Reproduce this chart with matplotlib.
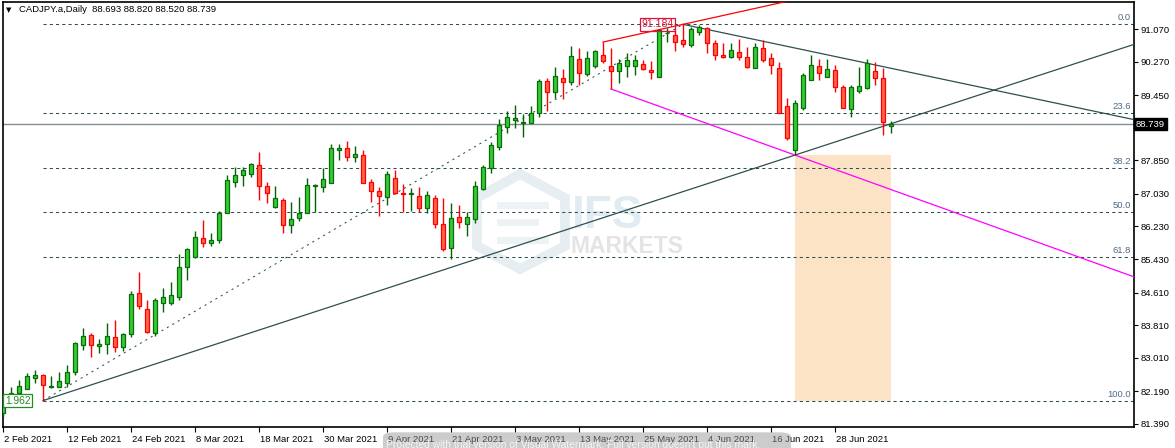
import matplotlib
matplotlib.use("Agg")
import numpy as np
import matplotlib.pyplot as plt
from matplotlib.patches import Rectangle, Polygon, FancyBboxPatch
from matplotlib.transforms import blended_transform_factory, ScaledTranslation

plt.rcParams['font.family'] = ['Liberation Sans', 'DejaVu Sans']

# --- Daily OHLC (bar index 0 = 2 Feb 2021)
opens = [81.67, 82.08, 82.16, 82.25, 82.52, 82.60, 82.30, 82.30, 82.40, 82.67,
         83.33, 83.58, 83.31, 83.36, 83.53, 83.28, 83.60, 84.60, 84.21, 83.62,
         84.36, 84.36, 84.51, 85.24, 85.49, 85.95, 85.83, 85.90, 86.56, 87.32,
         87.50, 87.52, 87.74, 87.22, 86.71, 86.88, 86.27, 86.44, 86.56, 87.22,
         87.20, 87.30, 88.11, 88.16, 87.93, 87.98, 87.32, 87.10, 86.96, 87.42,
         87.04, 87.02, 86.98, 86.69, 86.93, 86.30, 85.71, 86.47, 86.30, 86.42,
         87.15, 87.67, 88.18, 88.67, 88.85, 88.77, 88.77, 89.01, 89.80, 89.53,
         89.87, 89.77, 90.34, 89.97, 90.16, 90.43, 90.16, 90.04, 90.16, 90.16,
         90.21, 90.07, 89.89, 90.96, 90.92, 90.80, 90.68, 91.00, 91.09, 90.73,
         90.43, 90.38, 90.51, 90.38, 90.11, 90.60, 90.36, 90.11, 89.18, 88.11,
         89.14, 89.82, 90.16, 89.89, 90.07, 89.65, 89.11, 89.55, 89.62, 90.04,
         89.87, 88.693]
highs = [82.16, 82.30, 82.47, 82.65, 82.72, 82.62, 82.57, 82.67, 82.84, 83.40,
         83.75, 83.63, 83.48, 83.87, 83.94, 83.63, 84.65, 85.12, 84.43, 84.48,
         84.73, 84.87, 85.56, 85.71, 86.12, 86.39, 86.07, 86.61, 87.50, 87.69,
         87.69, 87.79, 88.06, 87.32, 87.22, 86.93, 86.83, 86.96, 87.42, 87.27,
         87.67, 88.25, 88.25, 88.33, 88.20, 88.11, 87.40, 87.20, 87.59, 87.62,
         87.27, 87.18, 87.20, 87.10, 87.00, 86.93, 86.81, 86.76, 86.59, 87.35,
         87.74, 88.30, 88.87, 89.06, 89.21, 88.99, 89.18, 89.85, 89.87, 90.14,
         90.09, 90.65, 90.60, 90.53, 90.56, 90.75, 90.60, 90.34, 90.48, 90.43,
         90.31, 90.29, 91.07, 91.09, 91.05, 91.184, 91.12, 91.17, 91.12, 90.80,
         90.73, 90.73, 90.82, 90.63, 90.73, 90.80, 90.48, 90.26, 89.38, 89.33,
         89.99, 90.43, 90.34, 90.34, 90.19, 89.70, 89.70, 90.14, 90.34, 90.26,
         90.11, 88.820]
lows = [81.57, 81.98, 82.11, 82.25, 82.40, 81.962, 82.28, 82.30, 82.30, 82.60,
        83.21, 83.04, 83.13, 83.11, 83.16, 83.18, 83.53, 84.21, 83.62, 83.55,
        84.13, 84.31, 84.43, 84.92, 85.46, 85.73, 85.76, 85.83, 86.56, 87.20,
        87.22, 87.45, 86.88, 86.81, 86.69, 86.07, 86.07, 86.37, 86.56, 86.59,
        87.08, 87.30, 87.86, 87.84, 87.81, 87.30, 86.83, 86.49, 86.76, 87.03,
        86.59, 86.61, 86.59, 86.56, 86.20, 85.63, 85.44, 86.20, 86.00, 86.32,
        87.13, 87.54, 88.11, 88.52, 88.65, 88.42, 88.77, 88.91, 89.06, 89.38,
        89.36, 89.70, 89.70, 89.92, 90.11, 90.24, 89.60, 89.75, 89.90, 89.94,
        90.07, 89.85, 89.89, 90.75, 90.53, 90.63, 90.63, 90.92, 90.48, 90.31,
        90.36, 90.36, 90.31, 90.11, 90.11, 90.26, 89.97, 89.01, 88.35, 87.98,
        89.09, 89.82, 89.82, 89.89, 89.53, 89.14, 88.91, 89.50, 89.60, 89.70,
        88.47, 88.520]
closes = [82.11, 82.16, 82.33, 82.57, 82.60, 82.35, 82.33, 82.45, 82.67, 83.38,
          83.55, 83.33, 83.36, 83.55, 83.28, 83.60, 84.58, 84.29, 83.65, 84.43,
          84.51, 84.56, 85.24, 85.68, 85.98, 85.83, 85.90, 86.56, 87.37, 87.50,
          87.62, 87.76, 87.22, 87.05, 86.93, 86.27, 86.42, 86.56, 87.25, 87.25,
          87.40, 88.16, 88.16, 87.93, 88.01, 87.30, 87.10, 86.98, 87.52, 87.05,
          87.02, 87.04, 86.69, 87.00, 86.30, 85.68, 86.44, 86.34, 86.47, 87.22,
          87.69, 88.23, 88.72, 88.91, 88.88, 88.78, 89.01, 89.80, 89.53, 89.92,
          89.77, 90.41, 89.99, 90.36, 90.53, 90.29, 90.04, 90.24, 90.31, 90.31,
          90.09, 90.02, 91.05, 90.97, 90.75, 90.70, 91.07, 91.12, 90.73, 90.43,
          90.38, 90.56, 90.38, 90.14, 90.63, 90.31, 90.19, 89.01, 88.40, 89.26,
          89.94, 90.19, 89.99, 90.09, 89.65, 89.14, 89.65, 89.67, 90.24, 89.87,
          88.79, 88.739]

date_labels = ['2 Feb 2021', '12 Feb 2021', '24 Feb 2021', '8 Mar 2021', '18 Mar 2021',
               '30 Mar 2021', '9 Apr 2021', '21 Apr 2021', '3 May 2021', '13 May 2021',
               '25 May 2021', '4 Jun 2021', '16 Jun 2021', '28 Jun 2021']
date_ticks = [0, 8, 16, 24, 32, 40, 48, 56, 64, 72, 80, 88, 96, 104]
price_ticks = [91.070, 90.270, 89.450, 88.650, 87.850, 87.030, 86.230,
               85.430, 84.610, 83.810, 83.010, 82.190, 81.390]

# --- Drawing objects
fib_start, fib_low = 5, 81.962
fib_end, fib_high = 85, 91.184
fib_levels = [0.0, 23.6, 38.2, 50.0, 61.8, 100.0]
support_pts = [(5, 81.962), (99, 87.98)]
resist_pts = [(85, 91.184), (109, 90.19)]
red_pts = [(75, 90.75), (85, 91.184)]
magenta_pts = [(76, 89.60), (99, 87.98)]
box_x = (99, 111)
box_y = (81.962, 87.98)
last_price = 88.739
header = "CADJPY.a,Daily  88.693 88.820 88.520 88.739"

W, H = 1175, 448
XMAX = 141.375
YMIN, YMAX = 81.315, 91.732
DARK = '#2F4F4F'

fig = plt.figure(figsize=(W / 100, H / 100), dpi=100)
ax = fig.add_axes([3 / W, 21 / H, 1131 / W, 425 / H])
ax.set_xlim(0, XMAX)
ax.set_ylim(YMIN, YMAX)

# --- Watermark logo (background)
def fpx(x, y):
    return (x / W, 1 - y / H)

hexa = [fpx(520, 174), fpx(565, 198), fpx(565, 246), fpx(520, 269), fpx(477, 246), fpx(477, 198)]
fig.patches.append(Polygon(hexa, closed=True, fill=False, ec='#e6eef2', lw=7,
                           transform=fig.transFigure, zorder=0.5))
for (x0, y0, x1, y1) in [(500, 205, 545, 205), (500, 222, 535, 222), (500, 240, 545, 240)]:
    fig.lines.append(plt.Line2D([x0 / W, x1 / W], [1 - y0 / H, 1 - y1 / H], color='#edf2f5',
                                lw=5, transform=fig.transFigure, zorder=0.5))
fig.text(572 / W, 1 - 216 / H, 'IFS', fontsize=33, fontweight='bold', color='#e0ecf2',
         va='center', ha='left', zorder=0.6)
fig.text(571 / W, 1 - 246 / H, 'MARKETS', fontsize=16.5, fontweight='bold', color='#e4e4e4',
         va='center', ha='left', zorder=0.6)
ax.set_facecolor('none')
ax.set_zorder(1)

# --- Peach box
ax.add_patch(Rectangle((box_x[0], box_y[0]), box_x[1] - box_x[0], box_y[1] - box_y[0],
                       fc='#FDE3C5', ec='none', zorder=1))

# --- Fibonacci levels
for lv in fib_levels:
    price = fib_high - (fib_high - fib_low) * lv / 100
    ax.plot([fib_start, XMAX], [price, price], color=DARK, lw=0.75,
            linestyle=(0, (3, 3)), zorder=2)
    ax.annotate(f"{lv:.1f}", xy=(1, price), xycoords=('axes fraction', 'data'),
                xytext=(-2, 1.5), textcoords='offset points', ha='right', va='bottom',
                fontsize=6.8, color='#4f6a88', zorder=5)
ax.plot([fib_start, fib_end], [fib_low, fib_high], color=DARK, lw=0.75,
        linestyle=(0, (2, 4)), zorder=2)

# --- Current price line
ax.axhline(last_price, color='#868c94', lw=1.0, zorder=2)

# --- Trend lines (rays to the right edge)
def ray(pts, **kw):
    (x0, y0), (x1, y1) = pts
    slope = (y1 - y0) / (x1 - x0)
    ax.plot([x0, XMAX], [y0, y0 + slope * (XMAX - x0)], **kw)

ray(support_pts, color=DARK, lw=0.9, zorder=3)
ray(resist_pts, color=DARK, lw=0.9, zorder=3)
ray(red_pts, color='#FF0000', lw=0.9, zorder=3)
ray(magenta_pts, color='#FF00FF', lw=0.9, zorder=3)

# --- Candles
idx = np.arange(len(opens))
o = np.array(opens); h = np.array(highs); l = np.array(lows); c = np.array(closes)
up = c >= o
wick_col = np.where(up, '#006400', '#FF0000')
ax.vlines(idx, l, h, colors=wick_col, lw=1.0, zorder=4)
body_lo = np.minimum(o, c)
body_h = np.maximum(np.abs(c - o), 0.012)
ax.bar(idx[up], body_h[up], bottom=body_lo[up], width=0.62, color='#32CD32',
       edgecolor='#0b6a0b', linewidth=0.9, zorder=4.5)
ax.bar(idx[~up], body_h[~up], bottom=body_lo[~up], width=0.62, color='#FF6347',
       edgecolor='#FF0000', linewidth=0.9, zorder=4.5)

# --- Price labels on drawings
ax.text(0.25, fib_low, '1.962', fontsize=7.4, color='#228B22', ha='left', va='center',
        bbox=dict(boxstyle='square,pad=0.15', fc='white', ec='#228B22', lw=0.9), zorder=6)
ax.text(fib_end - 1.2, fib_high, f"{fib_high:.3f}", fontsize=7.6, color='#DC143C',
        ha='right', va='center',
        bbox=dict(boxstyle='square,pad=0.15', fc='none', ec='#DC143C', lw=0.9), zorder=6)

# --- Axes styling
for sp in ax.spines.values():
    sp.set_color('black')
    sp.set_linewidth(1.2)
ax.yaxis.tick_right()
ax.set_yticks(price_ticks)
# the tick under the last-price tag is covered in the chart, so its label is left blank
ax.set_yticklabels(["" if abs(v - last_price) < 0.3 else f"{v:.3f}" for v in price_ticks])
ax.tick_params(axis='y', direction='out', length=3, width=0.8, pad=2, labelsize=6.8,
               colors='black')
ax.set_xticks(date_ticks)
ax.set_xticklabels(date_labels)
ax.tick_params(axis='x', direction='out', length=3.5, width=0.8, pad=2, labelsize=6.8)
shift = ScaledTranslation(1 / 100, 0, fig.dpi_scale_trans)
for lab in ax.get_xticklabels():
    lab.set_horizontalalignment('left')
    lab.set_transform(lab.get_transform() + shift)

# --- Last price tag on the right axis
tr = blended_transform_factory(ax.transAxes, ax.transData)
ax.text(1.0015, last_price, f"{last_price:.3f}", transform=tr, fontsize=6.8, color='white',
        ha='left', va='center', clip_on=False,
        bbox=dict(boxstyle='square,pad=0.2', fc='black', ec='black'), zorder=10)

# --- Header
fig.text(6 / W, 1 - 10 / H, '▼', fontsize=5, color='black', va='center', ha='left',
         family=['DejaVu Sans'])
fig.text(19 / W, 1 - 10 / H, header, fontsize=6.8, color='black', va='center', ha='left')

# --- Trial watermark strip at the bottom
fig.patches.append(FancyBboxPatch((383 / W, -0.02), 408 / W, 0.055,
                                  boxstyle='round,pad=0.0,rounding_size=0.01',
                                  transform=fig.transFigure, fc='#9a9a9a', ec='none',
                                  alpha=0.5, zorder=20))
fig.text(386 / W, 1 - 445 / H, "Protected with trial version of Visual Watermark. "
         "Full version doesn't put this mark.", fontsize=7.4, color='#f4f4f4',
         va='center', ha='left', zorder=21)

fig.savefig('out.png', dpi=100)
